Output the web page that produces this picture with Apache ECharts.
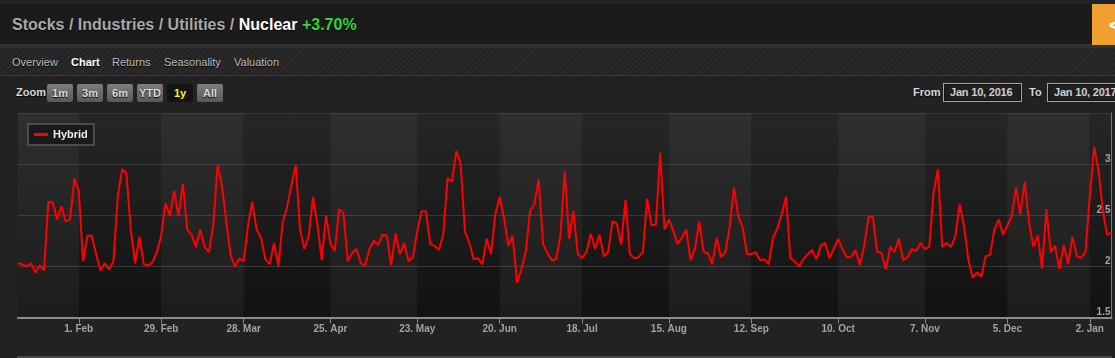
<!DOCTYPE html>
<html><head><meta charset="utf-8">
<script src="https://cdn.jsdelivr.net/npm/echarts@6/dist/echarts.min.js"></script>
<style>
html,body{margin:0;padding:0;width:1115px;height:358px;overflow:hidden;background:#222;font-family:"Liberation Sans",Arial,sans-serif;}
.a{position:absolute;white-space:nowrap;}
#topstrip{left:0;top:0;width:1115px;height:4px;background:#1e2127;}
#header{left:0;top:4px;width:1115px;height:40px;background:#1b1b1b;}
#sep{left:0;top:44px;width:1115px;height:4px;background:#2e3137;}
#tabs{left:0;top:48px;width:1115px;height:27px;background:repeating-linear-gradient(135deg,#232323 0 2px,#2a2a2a 2px 4px);border-bottom:1px solid #3a3a3a;}
#title{left:12px;top:16px;font-size:16px;line-height:18px;font-weight:bold;color:#a9a9a9;text-shadow:0 1px 1px #000;letter-spacing:0;}
#title .n{color:#fff;}
#title .g{color:#33d633;}
#orange{left:1092px;top:4px;width:23px;height:41px;background:#f0a030;overflow:hidden;}
#orange span{position:absolute;left:17px;top:10px;color:#fff;font-size:20px;font-weight:bold;}
.tab{top:56px;font-size:11px;line-height:13px;color:#bdbdbd;text-shadow:0 1px 1px #000;}
.tab.on{color:#fff;font-weight:bold;}
.lbl{top:86px;font-size:11px;line-height:13px;font-weight:bold;color:#d8d8d8;text-shadow:0 1px 1px #000;}
.btn{position:absolute;top:84px;width:26px;height:18px;line-height:18px;text-align:center;font-size:11px;font-weight:bold;color:#dcdcdc;background:linear-gradient(#7e7e7e,#585858);border-radius:2px;text-shadow:0 1px 1px #000;}
.btn.sel{background:#141414;color:#ffff00;}
.box{position:absolute;top:83px;height:17px;line-height:17px;border:1px solid #a5a5a5;box-shadow:inset 0 0 0 1px #111;background:#1f1f1f;color:#cfcfcf;font-size:11px;font-weight:bold;padding-left:6px;white-space:nowrap;overflow:hidden;letter-spacing:-0.2px;}
#chart{position:absolute;left:0;top:105px;width:1115px;height:253px;}
#nav{left:17px;top:356px;width:1095px;height:2px;background:#4a4a4a;}
</style></head>
<body>
<div id="topstrip" class="a"></div>
<div id="header" class="a"></div>
<div id="sep" class="a"></div>
<div id="tabs" class="a"></div>
<div id="title" class="a">Stocks / Industries / Utilities / <span class="n">Nuclear</span> <span class="g">+3.70%</span></div>
<div id="orange" class="a"><span>&lt;</span></div>
<div class="a tab" style="left:12px">Overview</div>
<div class="a tab on" style="left:71px">Chart</div>
<div class="a tab" style="left:112px">Returns</div>
<div class="a tab" style="left:164px">Seasonality</div>
<div class="a tab" style="left:234px">Valuation</div>
<div class="a lbl" style="left:16px">Zoom</div>
<div class="btn" style="left:47px">1m</div>
<div class="btn" style="left:77px">3m</div>
<div class="btn" style="left:107px">6m</div>
<div class="btn" style="left:137px">YTD</div>
<div class="btn sel" style="left:167px">1y</div>
<div class="btn" style="left:197px">All</div>
<div class="a lbl" style="left:913px">From</div>
<div class="box" style="left:943px;width:71px;">Jan 10, 2016</div>
<div class="a lbl" style="left:1029px">To</div>
<div class="box" style="left:1047px;width:80px;">Jan 10, 2017</div>
<div id="chart"></div>
<div id="nav" class="a"></div>
<script>
// ---- data ----
const seriesName = 'Hybrid';
const firstDay = '2016-01-11';
const lastDay = '2017-01-10';
const marketHolidays = ['2016-01-18','2016-02-15','2016-03-25','2016-05-30','2016-07-04','2016-09-05','2016-11-24','2016-12-26','2017-01-02'];
const hybrid = [
2.03,2.02,2.00,2.03,1.94,2.01,1.96,2.63,2.63,2.46,
2.59,2.44,2.46,2.86,2.74,2.05,2.30,2.30,2.12,1.96,
2.03,1.97,2.05,2.69,2.95,2.91,2.35,2.03,2.29,2.02,
2.01,2.04,2.14,2.30,2.62,2.49,2.74,2.49,2.81,2.36,
2.31,2.19,2.36,2.19,2.14,2.40,2.99,2.79,2.44,2.11,
2.00,2.08,2.05,2.40,2.63,2.36,2.28,2.07,2.02,2.23,
2.00,2.43,2.58,2.79,2.99,2.36,2.17,2.30,2.68,2.41,
2.06,2.50,2.22,2.15,2.56,2.52,2.05,2.13,2.17,2.03,
2.01,2.17,2.25,2.21,2.31,2.30,2.01,2.32,2.12,2.23,
2.05,2.09,2.34,2.54,2.54,2.22,2.20,2.16,2.31,2.86,
2.83,3.13,3.01,2.34,2.23,2.07,2.08,2.02,2.27,2.12,
2.51,2.68,2.48,2.20,2.30,1.84,1.97,2.14,2.54,2.61,
2.85,2.22,2.13,2.06,2.07,2.30,2.93,2.27,2.54,2.12,
2.08,2.14,2.32,2.17,2.31,2.10,2.14,2.44,2.42,2.21,
2.65,2.12,2.08,2.09,2.14,2.66,2.40,2.41,3.11,2.36,
2.46,2.35,2.22,2.28,2.36,2.06,2.17,2.44,2.14,2.13,
2.02,2.28,2.09,2.14,2.38,2.77,2.49,2.38,2.12,2.12,
2.14,2.06,2.07,2.02,2.28,2.37,2.51,2.68,2.08,2.05,
2.00,2.07,2.12,2.16,2.07,2.20,2.23,2.08,2.17,2.27,
2.17,2.09,2.09,2.16,2.01,2.20,2.48,2.49,2.14,2.13,
1.97,2.19,2.14,2.27,2.06,2.09,2.17,2.15,2.23,2.17,
2.19,2.72,2.95,2.19,2.23,2.19,2.29,2.61,2.40,2.07,
1.89,1.94,1.90,2.10,2.11,2.36,2.46,2.31,2.40,2.49,
2.77,2.51,2.83,2.43,2.19,2.30,1.98,2.56,2.14,2.20,
1.97,2.21,2.02,2.29,2.10,2.08,2.14,2.69,3.17,2.94,
2.54,2.31,2.33
];
const tickDates = ['2016-02-01','2016-02-29','2016-03-28','2016-04-25','2016-05-23','2016-06-20','2016-07-18','2016-08-15','2016-09-12','2016-10-10','2016-11-07','2016-12-05','2017-01-02'];
const tickLabels = ['1. Feb','29. Feb','28. Mar','25. Apr','23. May','20. Jun','18. Jul','15. Aug','12. Sep','10. Oct','7. Nov','5. Dec','2. Jan'];
const yTicks = {min:1.5, max:3.5, step:0.5};

// ---- trading-day categories ----
function tradingDays(){
  const out=[]; let t=Date.parse(firstDay+'T00:00:00Z'); const end=Date.parse(lastDay+'T00:00:00Z');
  while(t<=end){ const d=new Date(t); const wd=d.getUTCDay(); const s=d.toISOString().slice(0,10);
    if(wd!==0&&wd!==6&&marketHolidays.indexOf(s)<0) out.push(s); t+=86400000; }
  return out;
}
const dates = tradingDays();
const tickIdx = tickDates.map(t=>dates.findIndex(d=>d>=t));
const labelByDate = {}; tickIdx.forEach((ix,k)=>{labelByDate[dates[ix]]=tickLabels[k];});
const tickSet = new Set(tickIdx);
const edges = [dates[0]].concat(tickIdx.map(i=>dates[i])).concat([dates[dates.length-1]]);
const bands = [];
for(let k=0;k<edges.length-1;k+=2){ bands.push([{xAxis:edges[k]},{xAxis:edges[k+1]}]); }

const chart = echarts.init(document.getElementById('chart'), null, {renderer:'canvas'});
const FF = '"Liberation Sans", Arial, sans-serif';
chart.setOption({
  animation:false,
  backgroundColor:'transparent',
  textStyle:{fontFamily:FF},
  grid:{left:18,right:3.5,top:8,bottom:40.5,show:true,borderWidth:0,
    backgroundColor:{type:'linear',x:0,y:0,x2:0,y2:1,colorStops:[{offset:0,color:'#262626'},{offset:1,color:'#121212'}]}},
  legend:{left:28,top:19,data:[{name:seriesName,icon:'rect'}],itemWidth:14,itemHeight:3,padding:[5,6,5,6],
    backgroundColor:'#1a1a1a',borderColor:'#5a5a5a',borderWidth:1.5,
    textStyle:{color:'#ececec',fontSize:11,fontWeight:'bold',fontFamily:FF}},
  xAxis:{type:'category',data:dates,boundaryGap:false,
    axisLine:{lineStyle:{color:'#8c8c8c',width:2}},
    axisTick:{show:true,length:6,interval:(i)=>tickSet.has(i),lineStyle:{color:'#8c8c8c',width:1}},
    axisLabel:{interval:(i)=>tickSet.has(i),formatter:(v)=>labelByDate[v]||'',color:'#a3a3a3',fontSize:10,fontWeight:'bold',margin:7,fontFamily:FF},
    splitLine:{show:false}},
  yAxis:{type:'value',position:'right',min:yTicks.min,max:yTicks.max,interval:yTicks.step,
    axisLine:{show:true,lineStyle:{color:'#7a7a7a',width:1}},
    axisTick:{show:false},
    axisLabel:{inside:true,margin:1,color:'#a3a3a3',fontSize:10,fontWeight:'bold',verticalAlign:'bottom',showMaxLabel:false,fontFamily:FF},
    splitLine:{show:true,lineStyle:{color:'#393939',width:1}}},
  series:[{name:seriesName,type:'line',data:hybrid,symbol:'none',color:'#ff0000',
    lineStyle:{color:'#ff0000',width:2},
    markArea:{silent:true,itemStyle:{color:'rgba(255,255,255,0.045)'},data:bands}}]
});
</script>
</body></html>
